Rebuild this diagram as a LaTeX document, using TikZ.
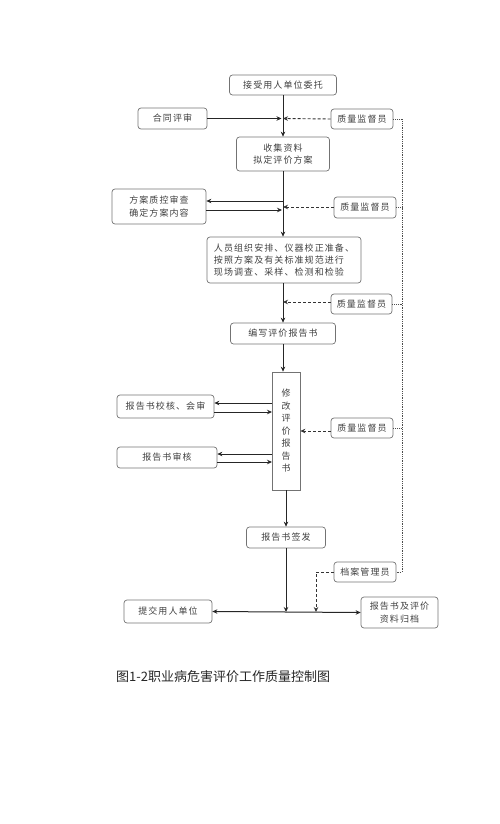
\documentclass[tikz,border=0pt]{standalone}
\usepackage{fontspec}
\setmainfont{Noto Sans CJK SC}
\newfontfamily\boxfont{Noto Sans CJK SC}[LetterSpace=12]
\usetikzlibrary{arrows.meta}
\tikzset{
  box/.style={draw=black!55, rounded corners=3pt, line width=0.7pt, inner sep=0pt,
    align=center, text=black!75, font=\boxfont\fontsize{9}{12.3}\selectfont},
  arr/.style={draw=black!85, line width=1pt, -{Stealth[length=5pt,width=4.5pt]}},
  dasharr/.style={draw=black!80, line width=0.9pt, dash pattern=on 3pt off 2pt, -{Stealth[length=5pt,width=4.5pt]}},
  dotline/.style={draw=black!70, line width=0.8pt, densely dotted},
}
\begin{document}
\begin{tikzpicture}[x=1pt,y=-1pt]
\useasboundingbox (0,0) rectangle (500,824);
% nodes
\node[box, minimum width=107pt, minimum height=20pt] (accept) at (283,85) {接受用人单位委托};
\node[box, minimum width=69pt, minimum height=21pt] (contract) at (172.5,118.5) {合同评审};
\node[box, minimum width=62pt, minimum height=20pt] (qs1) at (362,119) {质量监督员};
\node[box, minimum width=93pt, minimum height=34pt] (collect) at (283,154) {收集资料\\拟定评价方案};
\node[box, minimum width=94pt, minimum height=35pt] (plan) at (159,206.5) {方案质控审查\\确定方案内容};
\node[box, minimum width=62pt, minimum height=21pt] (qs2) at (365,207.5) {质量监督员};
\node[box, minimum width=154pt, minimum height=46pt, align=left] (field) at (284,260) {人员组织安排、仪器校正准备、\\按照方案及有关标准规范进行\\现场调查、采样、检测和检验};
\node[box, minimum width=61pt, minimum height=20pt] (qs3) at (361.5,304) {质量监督员};
\node[box, minimum width=105pt, minimum height=21pt] (write) at (283,333.5) {编写评价报告书};
\node[box, rounded corners=0pt, minimum width=28pt, minimum height=118pt, font=\boxfont\fontsize{9}{12.5}\selectfont] (revise) at (286,431) {修\\改\\评\\价\\报\\告\\书};
\node[box, minimum width=97pt, minimum height=23pt] (check) at (165.5,406.5) {报告书校核、会审};
\node[box, minimum width=100pt, minimum height=21pt] (audit) at (167,457.5) {报告书审核};
\node[box, minimum width=62pt, minimum height=20pt] (qs4) at (362,428) {质量监督员};
\node[box, minimum width=79pt, minimum height=21pt] (sign) at (286,537.5) {报告书签发};
\node[box, minimum width=62pt, minimum height=20pt] (arch) at (365,572) {档案管理员};
\node[box, minimum width=88pt, minimum height=23pt] (submit) at (168,611.5) {提交用人单位};
\node[box, minimum width=77pt, minimum height=31pt] (file) at (399.5,612.5) {报告书及评价\\资料归档};
\node[anchor=west, inner sep=0pt, text=black!85, font=\fontsize{13}{15}\selectfont] (cap) at (116,677) {图1-2职业病危害评价工作质量控制图};
% coordinates on main line
\coordinate (m1) at (283,118.5);
\coordinate (m2a) at (283,201);
\coordinate (m2b) at (283,210);
\coordinate (m2q) at (283,207);
\coordinate (m3) at (283,302);
\coordinate (r1a) at (272,403);
\coordinate (r1b) at (272,412);
\coordinate (r2a) at (272,454);
\coordinate (r2b) at (272,462);
\coordinate (hb) at (286,612);
\coordinate (ad) at (316,612);
\coordinate (rt) at (402,0);
% main flow
\draw[arr] (accept.south) -- (collect.north);
\draw[arr] (collect.south) -- (field.north -| collect.south);
\draw[arr] (field.south -| write.north) -- (write.north);
\draw[arr] (write.south) -- (revise.north -| write.south);
\draw[arr] (revise.south) -- (sign.north);
\draw[arr] (sign.south) -- (hb);
\draw[arr] (hb) -- (submit.east);
\draw[arr] (hb) -- (file.west);
% side inputs
\draw[arr, shorten >=1.5pt] (contract.east) -- (m1);
\draw[arr] (m2a) -- (m2a -| plan.east);
\draw[arr, shorten >=1pt] (m2b -| plan.east) -- (m2b);
\draw[arr] (r1a) -- (r1a -| check.east);
\draw[arr] (r1b -| check.east) -- (r1b);
\draw[arr] (r2a) -- (r2a -| audit.east);
\draw[arr] (r2b -| audit.east) -- (r2b);
% quality supervisors
\draw[dasharr, shorten >=-1.5pt] (qs1.west) -- ([xshift=1.5pt]m1);
\draw[dasharr, shorten >=-1.5pt] (qs2.west |- m2q) -- ([xshift=1.5pt]m2q);
\draw[dasharr, shorten >=-1.5pt] (qs3.west |- m3) -- ([xshift=1.5pt]m3);
\draw[dasharr] (qs4.west |- revise.east) -- (revise.east);
\draw[dasharr] (arch.west) -| (ad);
% dotted supervision line
\draw[dotline] (qs1.east) -- (qs1.east -| rt) -- (arch.east -| rt) -- (arch.east);
\draw[dotline] (qs2.east) -- (qs2.east -| rt);
\draw[dotline] (qs3.east) -- (qs3.east -| rt);
\draw[dotline] (qs4.east) -- (qs4.east -| rt);
\end{tikzpicture}
\end{document}
